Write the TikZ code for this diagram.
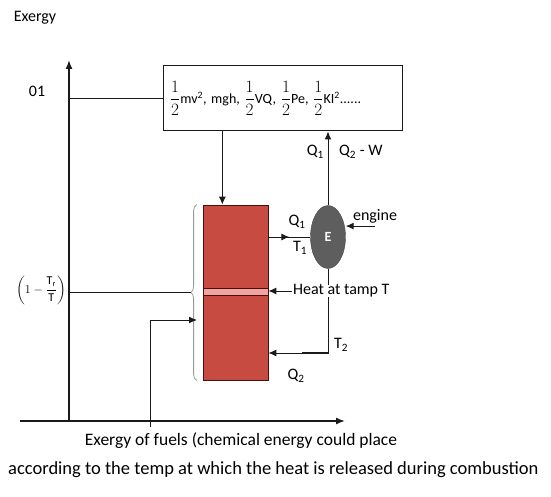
\documentclass[tikz,border=0pt]{standalone}
\usepackage{amsmath}
\usepackage{fontspec}
\setmainfont{Carlito}
\usepackage{tikz}
\usetikzlibrary{arrows.meta,positioning,shapes.geometric,calc,decorations.pathreplacing,decorations.markings}
\definecolor{Ink}{HTML}{1A1A1A}
\definecolor{Fuel}{HTML}{C84B42}
\definecolor{FuelDark}{HTML}{4A1010}
\definecolor{FuelBand}{HTML}{F2A5A0}
\definecolor{Engine}{HTML}{5E5E5E}
\definecolor{Brace}{HTML}{8FA08F}
\newcommand{\halfof}{{\fontsize{17}{19}\selectfont$\dfrac{1}{2}$}}

\begin{document}
\begin{tikzpicture}[
  x=1pt,y=-1pt,
  lbl/.style={font=\fontsize{16}{18}\selectfont,inner sep=0pt},
  axis/.style={-{Latex[length=9pt,width=7pt]},line width=1.4pt,draw=Ink},
  line/.style={line width=1pt,draw=Ink},
  arrow/.style={-{Latex[length=8pt,width=7pt]},line width=1pt,draw=Ink},
  formula/.style={draw=Ink,line width=1pt,minimum width=239pt,minimum height=65pt,inner xsep=7pt,text width=225pt,align=left,font=\fontsize{14}{16}\selectfont},
  fuelbox/.style={draw=FuelDark,fill=Fuel,line width=0.8pt,minimum width=65pt,minimum height=175pt,inner sep=0pt},
  band/.style={draw=FuelDark,fill=FuelBand,line width=1pt,minimum width=65pt,minimum height=7pt,inner sep=0pt},
  engine/.style={ellipse,draw=Engine!70!black,fill=Engine,minimum width=35pt,minimum height=63pt,inner sep=0pt,font=\fontsize{14}{14}\selectfont\bfseries,text=white},
  midarrow/.style={postaction={decorate},decoration={markings,mark=at position #1 with {\arrow{Latex[length=8pt,width=7pt]}}}}
]
\useasboundingbox (0,0) rectangle (551,497);

% axes
\coordinate (origin) at (69,421);
\coordinate (ytop) at (69,60);
\coordinate (xleft) at (20,421);
\coordinate (xright) at (345,421);
\draw[axis] (origin) -- (ytop);
\draw[axis] (xleft) -- (xright);
\node[lbl] (exergy) at (35,18) {Exergy};

% forms of energy
\node[formula] (forms) at (282.5,98.5) {\halfof mv\textsuperscript{2}, mgh, \halfof VQ, \halfof Pe, \halfof KI\textsuperscript{2}......};
\node[lbl] (level1) at (37,91) {01};
\draw[line] (origin |- forms.west) -- (forms.west);

% fuel column
\node[fuelbox] (fuel) at (235.5,292.5) {};
\node[band] (heatband) at (235.5,292) {};
\coordinate (fueltop) at ($(fuel.north west)!0.3!(fuel.north east)$);
\draw[arrow] (forms.south -| fueltop) -- (fueltop);
\draw[Brace,line width=0.8pt,decorate,decoration={brace,amplitude=6pt}]
  ($(fuel.south west)+(-6,0)$) -- ($(fuel.north west)+(-6,0)$);
\coordinate (bracetip) at ($(fuel.west)+(-12,0)$);
\node[lbl,font=\fontsize{12}{14}\selectfont] (carnot) at (41,290) {$\left(1-\dfrac{\mathrm{T_r}}{\mathrm{T}}\right)$};
\draw[line] (origin |- bracetip) -- (bracetip);
\coordinate (feedbase) at (150,427);
\coordinate (feedin) at (197,320);
\draw[arrow] (feedbase) |- (feedin);

% engine
\node[engine] (eng) at (328,237) {E};
\draw[arrow] (eng.north) -- (eng.north |- forms.south);
\node[lbl,anchor=east] (q1up) at (324,152) {Q\textsubscript{1}};
\node[lbl,anchor=west] (q2w) at (339,152) {Q\textsubscript{2} - W};
\draw[line,midarrow=0.5] (eng.west -| fuel.east) -- (eng.west);
\node[lbl] (q1in) at (297,222) {Q\textsubscript{1}};
\node[lbl] (t1) at (300,248) {T\textsubscript{1}};
\node[lbl] (englbl) at (375,216) {engine};
\coordinate (engfeed) at ($(englbl.south)+(0,3)$);
\draw[arrow] (engfeed) -- (engfeed -| eng.east);
\coordinate (q2level) at (0,353);
\draw[arrow] (eng.south) |- (q2level -| fuel.east);
\draw[line width=2.4pt,Ink] ($(q2level -| eng.south)+(-26,0)$) -- (q2level -| eng.south);
\node[lbl] (t2) at (341,345) {T\textsubscript{2}};
\node[lbl] (q2out) at (296,376) {Q\textsubscript{2}};
\node[lbl,anchor=west,fill=white,inner xsep=1pt] (heatT) at (292,291) {Heat at tamp T};
\draw[arrow] (heatT.west) -- (heatT.west -| fuel.east);

% caption
\node[lbl,font=\fontsize{17.5}{19}\selectfont] (cap1) at (241,441) {Exergy of fuels (chemical energy could place};
\node[lbl,anchor=west,font=\fontsize{18.5}{21}\selectfont] (cap2) at (8,470) {according to the temp at which the heat is released during combustion};
\end{tikzpicture}
\end{document}
